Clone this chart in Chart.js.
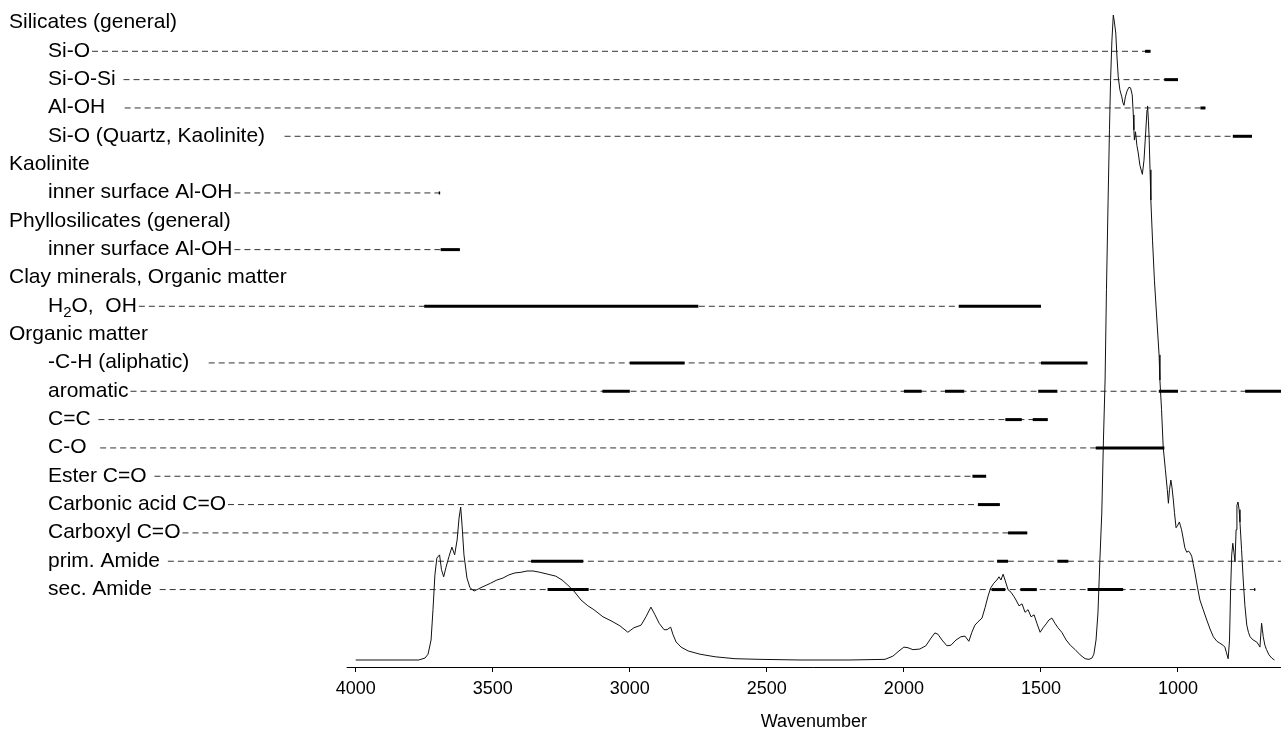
<!DOCTYPE html>
<html>
<head>
<meta charset="utf-8">
<script src="https://cdn.jsdelivr.net/npm/chart.js@4.4.1/dist/chart.umd.min.js"></script>
<style>
  html, body { margin: 0; padding: 0; background: #fff; }
  canvas { display: block; }
</style>
</head>
<body>
<canvas id="c" width="1281" height="733"></canvas>
<script>
// IR spectrum (wavenumber in cm-1, relative absorbance)
const wavenumbers = [
  4000, 3860, 3770, 3747, 3736, 3725, 3718, 3711, 3704, 3694, 3687, 3679, 3671, 3660, 3649, 3639,
  3630, 3623, 3617, 3612, 3605, 3594, 3583, 3568, 3553, 3539, 3508, 3485, 3463, 3441, 3419, 3397,
  3375, 3353, 3328, 3299, 3270, 3247, 3226, 3204, 3178, 3153, 3131, 3098, 3065, 3036, 3007, 2985,
  2959, 2941, 2923, 2908, 2893, 2875, 2864, 2851, 2842, 2831, 2813, 2787, 2744, 2689, 2616, 2525,
  2379, 2197, 2069, 2040, 2018, 2000, 1985, 1967, 1942, 1920, 1901, 1887, 1876, 1861, 1843, 1828,
  1810, 1792, 1777, 1763, 1752, 1741, 1730, 1715, 1704, 1693, 1683, 1672, 1661, 1653, 1646, 1638,
  1631, 1620, 1609, 1598, 1591, 1580, 1569, 1558, 1547, 1536, 1525, 1514, 1503, 1492, 1481, 1471,
  1460, 1449, 1438, 1424, 1408, 1393, 1375, 1357, 1339, 1325, 1314, 1307, 1299, 1292, 1285, 1278,
  1272, 1266, 1261, 1255, 1250, 1246, 1241, 1236, 1232, 1227, 1223, 1218, 1212, 1205, 1201, 1197,
  1192, 1186, 1179, 1173, 1167, 1163, 1161, 1159, 1155, 1150, 1145, 1139, 1130, 1124, 1118, 1113,
  1111, 1108, 1105, 1102, 1099, 1093, 1086, 1077, 1069, 1066, 1060, 1054, 1046, 1039, 1035, 1031,
  1026, 1022, 1017, 1013, 1007, 1002, 995, 991, 987, 980, 975, 968, 962, 956, 950, 945,
  938, 929, 920, 908, 895, 883, 871, 858, 847, 836, 829, 823, 817, 812, 808, 804,
  800, 796, 792, 788, 785, 781, 777, 774, 768, 762, 756, 749, 743, 737, 726, 713,
  705, 701, 698, 695, 692, 689, 683, 677, 668, 658, 648
];
const absorbance = [
  0.000, 0.000, 0.000, 0.003, 0.009, 0.031, 0.078, 0.132, 0.158, 0.163, 0.140, 0.129, 0.143, 0.160, 0.175, 0.163,
  0.186, 0.220, 0.237, 0.209, 0.163, 0.127, 0.112, 0.107, 0.110, 0.113, 0.119, 0.124, 0.127, 0.132, 0.135, 0.136,
  0.138, 0.138, 0.136, 0.133, 0.130, 0.124, 0.116, 0.107, 0.093, 0.084, 0.078, 0.067, 0.060, 0.053, 0.043, 0.050,
  0.054, 0.067, 0.082, 0.070, 0.057, 0.047, 0.047, 0.051, 0.039, 0.028, 0.020, 0.014, 0.009, 0.005, 0.002, 0.001,
  0.000, 0.000, 0.001, 0.006, 0.014, 0.020, 0.019, 0.016, 0.017, 0.022, 0.034, 0.042, 0.040, 0.031, 0.022, 0.023,
  0.031, 0.036, 0.037, 0.029, 0.043, 0.054, 0.059, 0.065, 0.081, 0.099, 0.112, 0.119, 0.124, 0.129, 0.124, 0.133,
  0.124, 0.109, 0.105, 0.098, 0.093, 0.084, 0.087, 0.074, 0.078, 0.067, 0.070, 0.056, 0.043, 0.050, 0.056, 0.062,
  0.065, 0.057, 0.050, 0.043, 0.031, 0.023, 0.016, 0.008, 0.002, 0.001, 0.003, 0.009, 0.031, 0.073, 0.155, 0.228,
  0.341, 0.434, 0.574, 0.713, 0.822, 0.899, 0.961, 1.000, 0.989, 0.972, 0.938, 0.904, 0.884, 0.873, 0.864, 0.860,
  0.873, 0.882, 0.888, 0.887, 0.876, 0.845, 0.822, 0.806, 0.819, 0.798, 0.786, 0.767, 0.753, 0.775, 0.817, 0.853,
  0.859, 0.837, 0.806, 0.760, 0.713, 0.651, 0.589, 0.527, 0.473, 0.434, 0.388, 0.330, 0.295, 0.264, 0.243, 0.264,
  0.279, 0.268, 0.248, 0.229, 0.205, 0.208, 0.214, 0.208, 0.202, 0.186, 0.174, 0.167, 0.169, 0.166, 0.161, 0.150,
  0.135, 0.113, 0.093, 0.078, 0.062, 0.048, 0.036, 0.029, 0.026, 0.023, 0.020, 0.011, 0.002, 0.031, 0.109, 0.163,
  0.181, 0.167, 0.152, 0.202, 0.240, 0.245, 0.233, 0.214, 0.171, 0.124, 0.085, 0.054, 0.043, 0.036, 0.031, 0.028,
  0.023, 0.020, 0.039, 0.057, 0.047, 0.036, 0.023, 0.016, 0.008, 0.003, 0.000
];

// Axis tick values
const xTicks = [4000, 3500, 3000, 2500, 2000, 1500, 1000];

// Band assignment rows (top to bottom)
const rowLabels = [
  'Silicates (general)',
  'Si-O',
  'Si-O-Si ',
  'Al-OH   ',
  'Si-O (Quartz, Kaolinite)   ',
  'Kaolinite',
  'inner surface Al-OH',
  'Phyllosilicates (general)',
  'inner surface Al-OH',
  'Clay minerals, Organic matter',
  'H\u2082O,  OH',
  'Organic matter',
  '-C-H (aliphatic)   ',
  'aromatic',
  'C=C ',
  'C-O  ',
  'Ester C=O ',
  'Carbonic acid C=O',
  'Carboxyl C=O',
  'prim. Amide ',
  'sec. Amide '
];
const rowIsGroup = [
  true, false, false, false, false, true, false, true, false, true, false,
  true, false, false, false, false, false, false, false, false, false
];
// Wavenumber where each row's guide line stops (null: no guide line)
const rowLineEnd = [
  null, 1100, 1000, 900, 730, null, 3692, null, 3620, null, 1500,
  null, 1330, 600, 1475, 1050, 1700, 1650, 1550, 600, 718
];
// Band ranges [from, to] in cm-1 for each row
const rowBands = [
  [],
  [[1120, 1100]],
  [[1050, 1000]],
  [[918, 900]],
  [[800, 730]],
  [],
  [[3697, 3692]],
  [],
  [[3690, 3620]],
  [],
  [[3750, 2750], [1800, 1500]],
  [],
  [[3000, 2800], [1500, 1330]],
  [[3100, 3000], [2000, 1935], [1850, 1780], [1510, 1440], [1070, 1000], [755, 600]],
  [[1630, 1570], [1530, 1475]],
  [[1300, 1050]],
  [[1750, 1700]],
  [[1730, 1650]],
  [[1620, 1550]],
  [[3360, 3170], [1660, 1620], [1440, 1400]],
  [[3300, 3150], [1680, 1630], [1575, 1515], [1330, 1200], [722, 718]]
];

const FONT_FAMILY = '"Liberation Sans", Arial, Helvetica, sans-serif';
const LABEL_SIZE = 21;
const GROUP_X = 9;
const ITEM_X = 48;

function labelParts(label) {
  // splits a label around the subscript two so it can be set lower and smaller
  const idx = label.indexOf('\u2082');
  if (idx < 0) return [{ t: label, sub: false }];
  return [
    { t: label.slice(0, idx), sub: false },
    { t: '2', sub: true },
    { t: label.slice(idx + 1), sub: false }
  ];
}
function partFont(p) {
  return (p.sub ? Math.round(LABEL_SIZE * 0.7) : LABEL_SIZE) + 'px ' + FONT_FAMILY;
}
function labelWidth(ctx, label) {
  let w = 0;
  for (const p of labelParts(label)) { ctx.font = partFont(p); w += ctx.measureText(p.t).width; }
  return w;
}
function drawLabel(ctx, label, x, y) {
  for (const p of labelParts(label)) {
    ctx.font = partFont(p);
    ctx.fillText(p.t, x, p.sub ? y + 5 : y);
    x += ctx.measureText(p.t).width;
  }
}

const rowAnnotations = {
  id: 'rowAnnotations',
  beforeDatasetsDraw(chart) {
    // dashed guide lines from each label to its last band
    const { ctx, scales: { x, row } } = chart;
    ctx.save();
    ctx.strokeStyle = '#333';
    ctx.lineWidth = 1;
    ctx.setLineDash([6, 4]);
    rowLabels.forEach((label, i) => {
      if (rowLineEnd[i] === null) return;
      const y = row.getPixelForValue(i + 1);
      const x0 = (rowIsGroup[i] ? GROUP_X : ITEM_X) + labelWidth(ctx, label) + 2;
      const x1 = x.getPixelForValue(rowLineEnd[i]);
      ctx.beginPath();
      ctx.moveTo(x0, y);
      ctx.lineTo(x1, y);
      ctx.stroke();
    });
    ctx.restore();
  },
  afterDatasetsDraw(chart) {
    // solid band markers
    const { ctx, chartArea, scales: { x, row } } = chart;
    ctx.save();
    ctx.beginPath();
    ctx.rect(chartArea.left, chartArea.top, chartArea.right - chartArea.left, chartArea.bottom - chartArea.top);
    ctx.clip();
    ctx.strokeStyle = '#000';
    ctx.lineWidth = 3;
    ctx.lineCap = 'butt';
    rowBands.forEach((bands, i) => {
      const y = row.getPixelForValue(i + 1);
      bands.forEach(([from, to]) => {
        ctx.beginPath();
        ctx.moveTo(x.getPixelForValue(from), y);
        ctx.lineTo(x.getPixelForValue(to), y);
        ctx.stroke();
      });
    });
    ctx.restore();
  },
  afterDraw(chart) {
    const { ctx, chartArea, scales: { x, row } } = chart;
    ctx.save();
    ctx.fillStyle = '#000';
    ctx.textBaseline = 'alphabetic';
    ctx.textAlign = 'left';
    rowLabels.forEach((label, i) => {
      const y = row.getPixelForValue(i + 1) + 5.4;
      drawLabel(ctx, label, rowIsGroup[i] ? GROUP_X : ITEM_X, y);
    });
    // x axis line
    const ax0 = x.getPixelForValue(4033);
    const ax1 = chartArea.right;
    const ay = Math.round(chartArea.bottom) + 0.5;
    ctx.strokeStyle = '#000';
    ctx.lineWidth = 1;
    ctx.beginPath();
    ctx.moveTo(ax0, ay);
    ctx.lineTo(ax1, ay);
    ctx.stroke();
    // axis title
    ctx.font = '18px ' + FONT_FAMILY;
    ctx.textAlign = 'center';
    ctx.fillText('Wavenumber', (ax0 + ax1) / 2, 727);
    ctx.restore();
  }
};

new Chart(document.getElementById('c'), {
  type: 'line',
  data: {
    datasets: [{
      label: 'spectrum',
      data: wavenumbers.map((w, i) => ({ x: w, y: absorbance[i] })),
      yAxisID: 'y',
      borderColor: '#111',
      borderWidth: 1,
      pointRadius: 0,
      tension: 0,
      fill: false
    }, {
      // hidden helper series that binds the band-row scale
      label: 'rows',
      data: [{ x: 4000, y: 1 }, { x: 4000, y: 21 }],
      yAxisID: 'row',
      showLine: false,
      pointRadius: 0,
      borderWidth: 0
    }]
  },
  options: {
    responsive: false,
    animation: false,
    devicePixelRatio: 1,
    layout: { padding: 0 },
    plugins: { legend: { display: false }, tooltip: { enabled: false }, title: { display: false } },
    scales: {
      x: {
        type: 'linear',
        reverse: true,
        min: 624.2,
        max: 5297.7,
        afterBuildTicks: (s) => { s.ticks = xTicks.map(v => ({ value: v })); },
        afterFit: (s) => { s.height = 66; },
        border: { display: false },
        grid: { drawOnChartArea: false, drawTicks: true, tickLength: 5, tickColor: '#000', color: '#000', lineWidth: 1 },
        ticks: {
          font: { family: FONT_FAMILY, size: 18 },
          color: '#000',
          padding: 6,
          maxRotation: 0,
          autoSkip: false,
          callback: (v) => String(v)
        }
      },
      y: { display: false, min: -0.010853, max: 1.02326 },
      row: { axis: 'y', display: false, reverse: true, min: 0.1892, max: 23.733 }
    }
  },
  plugins: [rowAnnotations]
});
</script>
</body>
</html>
